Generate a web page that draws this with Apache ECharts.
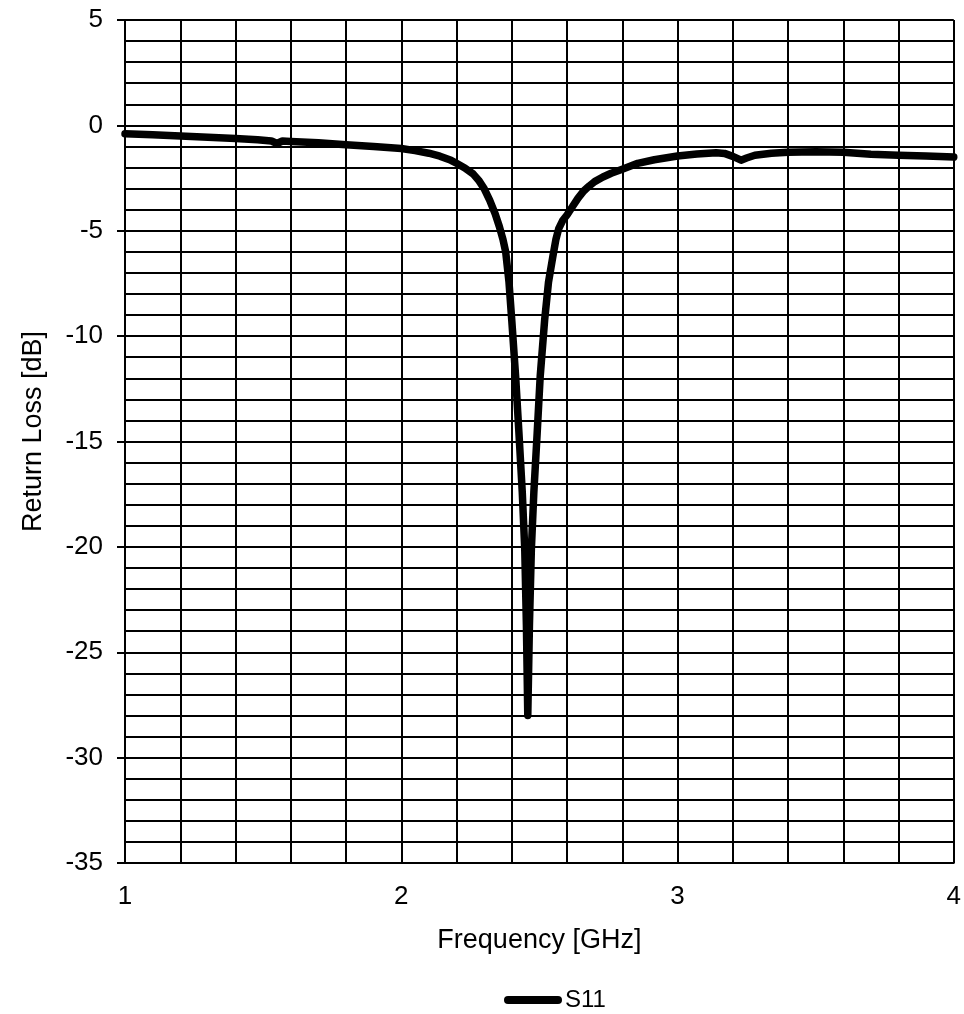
<!DOCTYPE html>
<html>
<head>
<meta charset="utf-8">
<script src="https://cdn.jsdelivr.net/npm/echarts@6/dist/echarts.min.js"></script>
<style>html,body{margin:0;padding:0;background:#fff;}#c{width:964px;height:1014px;}</style>
</head>
<body>
<div id="c"></div>
<script>
const freq = [1.0, 1.1, 1.2, 1.3, 1.4, 1.48, 1.53, 1.55, 1.57, 1.6, 1.7, 1.8, 1.9, 2.0, 2.05, 2.1, 2.14, 2.18, 2.2, 2.23, 2.26, 2.28, 2.30, 2.32, 2.34, 2.355, 2.368, 2.378, 2.39, 2.40, 2.414, 2.426, 2.438, 2.447, 2.453, 2.458, 2.464, 2.471, 2.48, 2.492, 2.503, 2.519, 2.533, 2.549, 2.56, 2.57, 2.585, 2.6, 2.62, 2.64, 2.66, 2.68, 2.70, 2.73, 2.76, 2.8, 2.856, 2.916, 3.0, 3.07, 3.14, 3.17, 3.2, 3.23, 3.25, 3.28, 3.34, 3.4, 3.5, 3.6, 3.7, 3.8, 3.9, 4.0];
const s11 = [-0.4, -0.45, -0.5, -0.56, -0.62, -0.68, -0.74, -0.86, -0.74, -0.76, -0.82, -0.92, -1.0, -1.1, -1.2, -1.32, -1.46, -1.66, -1.8, -2.02, -2.3, -2.6, -3.0, -3.55, -4.2, -4.8, -5.4, -6.0, -7.44, -9.24, -11.9, -14.6, -17.4, -20.1, -23.7, -28, -23.7, -20.1, -17.4, -14.6, -11.9, -9.24, -7.44, -6.2, -5.4, -4.9, -4.5, -4.25, -3.85, -3.45, -3.12, -2.88, -2.67, -2.45, -2.27, -2.08, -1.8, -1.63, -1.45, -1.36, -1.3, -1.33, -1.47, -1.65, -1.55, -1.42, -1.32, -1.27, -1.25, -1.27, -1.37, -1.42, -1.45, -1.5];
const seriesName = 'S11';
const xTitle = 'Frequency [GHz]';
const yTitle = 'Return Loss [dB]';

const chart = echarts.init(document.getElementById('c'));
const font = 'Liberation Sans, Arial, sans-serif';
const gridLine = {color: '#000', width: 2};
chart.setOption({
  animation: false,
  backgroundColor: '#fff',
  grid: {left: 125, right: 7, top: 20, bottom: 151, containLabel: false},
  legend: {
    top: 983, left: 499,
    data: [{name: seriesName, icon: 'path://M4,0 L54,0 A4,4 0 0 1 54,8 L4,8 A4,4 0 0 1 4,0 Z'}],
    itemWidth: 58, itemHeight: 8, itemGap: 4,
    textStyle: {fontFamily: font, fontSize: 24, color: '#000', padding: [0, 0, 0, -2]}
  },
  xAxis: {
    type: 'value', min: 1, max: 4, interval: 1,
    name: xTitle, nameLocation: 'middle', nameGap: 64,
    nameTextStyle: {fontFamily: font, fontSize: 27, color: '#000'},
    axisLine: {show: true, onZero: false, lineStyle: {color: '#000', width: 2}},
    axisTick: {show: false},
    axisLabel: {fontFamily: font, fontSize: 26, color: '#000', margin: 21},
    splitLine: {show: true, lineStyle: gridLine},
    minorTick: {show: false, splitNumber: 5},
    minorSplitLine: {show: true, lineStyle: gridLine}
  },
  yAxis: {
    type: 'value', min: -35, max: 5, interval: 5,
    name: yTitle, nameLocation: 'middle', nameGap: 78, nameRotate: 90,
    nameTextStyle: {fontFamily: font, fontSize: 27, color: '#000', padding: [0, 0, 0, 20]},
    axisLine: {show: true, onZero: false, lineStyle: {color: '#000', width: 2}},
    axisTick: {show: true, length: 8, inside: false, lineStyle: {color: '#000', width: 2}},
    axisLabel: {fontFamily: font, fontSize: 26, color: '#000', margin: 22},
    splitLine: {show: true, lineStyle: gridLine},
    minorTick: {show: false, splitNumber: 5},
    minorSplitLine: {show: true, lineStyle: gridLine}
  },
  series: [{
    name: seriesName, type: 'line',
    data: freq.map((f, i) => [f, s11[i]]),
    showSymbol: false, symbol: 'none', smooth: false,
    lineStyle: {color: '#000', width: 7.5, join: 'round', cap: 'round'},
    itemStyle: {color: '#000'}
  }]
});
</script>
</body>
</html>
